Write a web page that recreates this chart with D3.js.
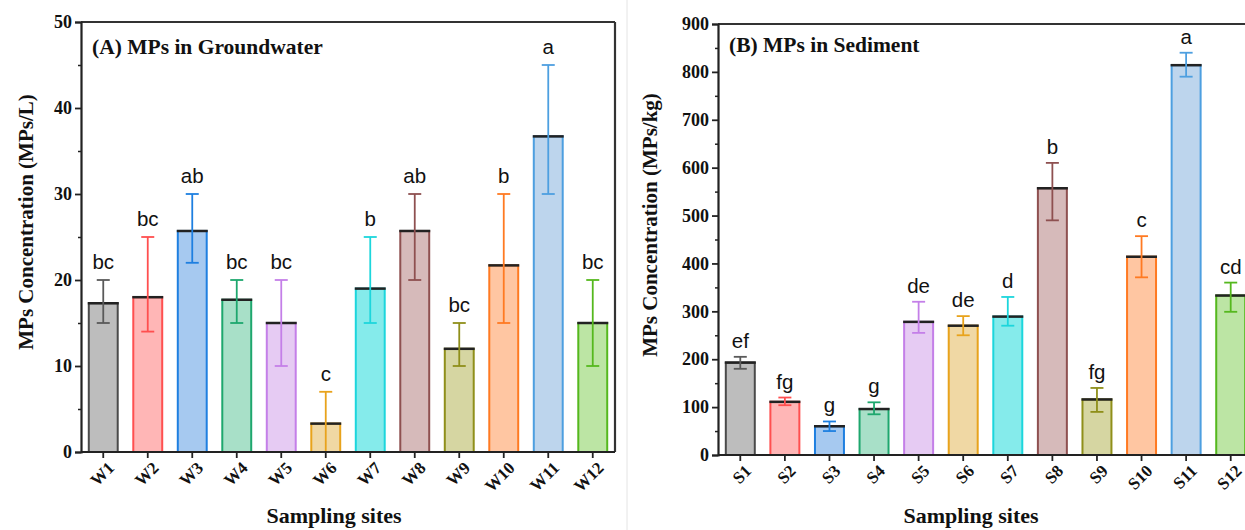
<!DOCTYPE html>
<html><head><meta charset="utf-8">
<script src="https://cdn.jsdelivr.net/npm/d3@7"></script>
<style>body{margin:0;background:#fff}svg{display:block}</style>
</head><body>
<svg id="c" width="1245" height="530"></svg>
<script>
const gwSites = ["W1","W2","W3","W4","W5","W6","W7","W8","W9","W10","W11","W12"];
const gwMean  = [17.3, 18.0, 25.7, 17.7, 15.0, 3.3, 19.0, 25.7, 12.0, 21.7, 36.7, 15.0];
const gwLow   = [15, 14, 22, 15, 10, 0, 15, 20, 10, 15, 30, 10];
const gwHigh  = [20, 25, 30, 20, 20, 7, 25, 30, 15, 30, 45, 20];
const gwLetters = ["bc","bc","ab","bc","bc","c","b","ab","bc","b","a","bc"];
const gwTicks = [0,10,20,30,40,50];

const sdSites = ["S1","S2","S3","S4","S5","S6","S7","S8","S9","S10","S11","S12"];
const sdMean  = [193, 111, 60, 96, 278, 270, 289, 557, 116, 414, 814, 333];
const sdLow   = [180, 104, 50, 85, 255, 250, 270, 490, 90, 371, 790, 299];
const sdHigh  = [205, 120, 70, 110, 320, 290, 330, 610, 140, 457, 840, 360];
const sdLetters = ["ef","fg","g","g","de","de","d","b","fg","c","a","cd"];
const sdTicks = [0,100,200,300,400,500,600,700,800,900];

const strokes = ["#4a4a4a","#ff4f4f","#1e7fe0","#1ea76e","#c47fe8","#e8a31c","#1cd6dc","#8e5050","#8f8f1a","#ff7a22","#4d9fe0","#55b81e"];
const fills   = ["#bdbdbd","#ffb6b6","#a6c9f0","#a8e0c8","#e6cbf3","#f0d8a4","#85ebeb","#d6baba","#d6d6a2","#ffc6a2","#bdd5ed","#bce5a4"];
const errCols = ["#5a5a5a","#ff4f4f","#1e7fe0","#1ea76e","#c47fe8","#e8a31c","#1cd6dc","#8e5050","#8f8f1a","#ff7a22","#4d9fe0","#55b81e"];

const svg = d3.select("#c");
const serif = "'Liberation Serif','Times New Roman',serif";
const sans = "'Liberation Sans',Arial,sans-serif";

svg.append("line").attr("x1",627).attr("x2",627).attr("y1",0).attr("y2",530)
  .attr("stroke","#e4e4e4").attr("stroke-width",1);

function panel(o){
  const g = svg.append("g");
  const x = d3.scaleBand().domain(o.sites).range([o.x0,o.x1]).paddingInner(0.35).paddingOuter(0.175);
  const y = d3.scaleLinear().domain([0,o.max]).range([o.y0,o.y1]);
  const idx = d3.range(o.sites.length);

  g.selectAll("rect.bar").data(idx).join("rect")
    .attr("x",i=>x(o.sites[i])).attr("width",x.bandwidth())
    .attr("y",i=>y(o.mean[i])).attr("height",i=>y(0)-y(o.mean[i]))
    .attr("fill",i=>fills[i]).attr("stroke",i=>strokes[i]).attr("stroke-width",2);
  g.selectAll("line.top").data(idx).join("line")
    .attr("x1",i=>x(o.sites[i])-1).attr("x2",i=>x(o.sites[i])+x.bandwidth()+1)
    .attr("y1",i=>y(o.mean[i])).attr("y2",i=>y(o.mean[i]))
    .attr("stroke","#222").attr("stroke-width",2.5);
  const cx = i=>x(o.sites[i])+x.bandwidth()/2;
  const eg = g.selectAll("g.err").data(idx).join("g").attr("stroke",i=>errCols[i]).attr("stroke-width",1.8);
  eg.append("line").attr("x1",cx).attr("x2",cx).attr("y1",i=>y(o.low[i])).attr("y2",i=>y(o.high[i]));
  eg.append("line").attr("x1",i=>cx(i)-6.5).attr("x2",i=>cx(i)+6.5).attr("y1",i=>y(o.high[i])).attr("y2",i=>y(o.high[i]));
  eg.filter(i=>o.low[i]>0).append("line").attr("x1",i=>cx(i)-6.5).attr("x2",i=>cx(i)+6.5).attr("y1",i=>y(o.low[i])).attr("y2",i=>y(o.low[i]));
  g.selectAll("text.let").data(idx).join("text")
    .attr("x",cx).attr("y",i=>y(o.high[i])-o.letOff)
    .attr("text-anchor","middle").attr("font-family",sans).attr("font-size",20.5).attr("fill","#111")
    .text(i=>o.letters[i]);

  g.append("line").attr("x1",o.x0).attr("x2",o.x1).attr("y1",o.y1).attr("y2",o.y1).attr("stroke","#333").attr("stroke-width",2.2);
  g.append("line").attr("x1",o.x1).attr("x2",o.x1).attr("y1",o.y1).attr("y2",o.y0).attr("stroke","#333").attr("stroke-width",2.2);

  const ya = d3.axisLeft(y).tickValues(o.ticks).tickSize(6).tickFormat(d3.format("d"));
  const yg = g.append("g").attr("transform",`translate(${o.x0},0)`).call(ya);
  yg.select(".domain").attr("stroke","#222").attr("stroke-width",2.2);
  yg.selectAll(".tick line").attr("stroke","#222").attr("stroke-width",1.8);
  yg.selectAll("text").attr("font-family",serif).attr("font-weight","bold").attr("font-size",18).attr("fill","#111").attr("x",-9);
  const minor = o.ticks.slice(0,-1).map((t,i)=>(t+o.ticks[i+1])/2);
  const ym = d3.axisLeft(y).tickValues(minor).tickSize(3).tickFormat("");
  const ymg = g.append("g").attr("transform",`translate(${o.x0},0)`).call(ym);
  ymg.select(".domain").remove();
  ymg.selectAll(".tick line").attr("stroke","#222").attr("stroke-width",1.5);

  const xa = d3.axisBottom(x).tickSize(6);
  const xg = g.append("g").attr("transform",`translate(0,${o.y0})`).call(xa);
  xg.select(".domain").attr("stroke","#222").attr("stroke-width",2.2).attr("d",`M${o.x0},0H${o.x1}`);
  xg.selectAll(".tick line").attr("stroke","#222").attr("stroke-width",1.8);
  xg.selectAll("text").attr("font-family",serif).attr("font-weight","bold").attr("font-size",17).attr("fill","#111")
    .attr("text-anchor","end").attr("dy",0).attr("y",0)
    .attr("transform","translate(12,17) rotate(-45)");

  g.append("text").attr("x",o.x0+11).attr("y",o.tly).attr("font-family",serif).attr("font-weight","bold")
    .attr("font-size",21.5).attr("fill","#111").text(o.title);
  g.append("text").attr("transform",`translate(${o.ylx},${o.yly}) rotate(-90)`).attr("text-anchor","middle")
    .attr("font-family",serif).attr("font-weight","bold").attr("font-size",21).attr("fill","#111").text(o.ylabel);
  g.append("text").attr("x",o.xlx).attr("y",523).attr("text-anchor","middle")
    .attr("font-family",serif).attr("font-weight","bold").attr("font-size",22).attr("fill","#111").text("Sampling sites");
}

panel({sites:gwSites,mean:gwMean,low:gwLow,high:gwHigh,letters:gwLetters,ticks:gwTicks,max:50,
  x0:81,x1:615,y0:452,y1:22,letOff:11,tly:54,title:"(A) MPs in Groundwater",ylabel:"MPs Concentration (MPs/L)",
  ylx:33,yly:222,xlx:334});
panel({sites:sdSites,mean:sdMean,low:sdLow,high:sdHigh,letters:sdLetters,ticks:sdTicks,max:900,
  x0:718,x1:1253,y0:455,y1:24,letOff:9,tly:52,title:"(B) MPs in Sediment",ylabel:"MPs Concentration (MPs/kg)",
  ylx:657,yly:225,xlx:971});
</script>
</body></html>
